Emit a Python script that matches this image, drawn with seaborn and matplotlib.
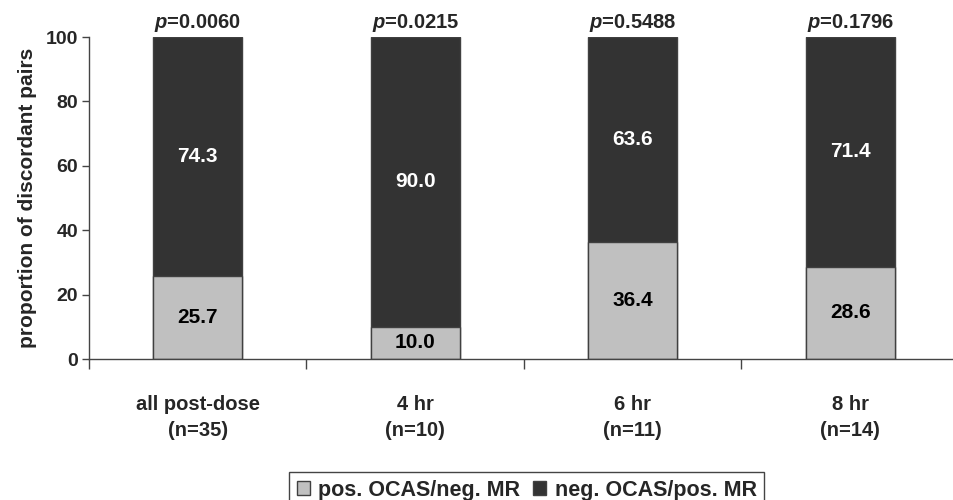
import matplotlib
matplotlib.use("Agg")
import matplotlib.pyplot as plt
from matplotlib.patches import Patch
import seaborn as sns
import pandas as pd

categories = ["all post-dose\n(n=35)", "4 hr\n(n=10)", "6 hr\n(n=11)", "8 hr\n(n=14)"]
pos_ocas = [25.7, 10.0, 36.4, 28.6]
neg_ocas = [74.3, 90.0, 63.6, 71.4]
p_values = ["0.0060", "0.0215", "0.5488", "0.1796"]
series_names = ["pos. OCAS/neg. MR", "neg. OCAS/pos. MR"]

light = "#c0c0c0"
dark = "#333333"
edge = "#404040"

sns.set_style("white")
plt.rcParams["font.family"] = ["Liberation Sans", "DejaVu Sans"]
plt.rcParams["font.weight"] = "bold"
plt.rcParams["mathtext.fontset"] = "custom"
plt.rcParams["mathtext.rm"] = "Liberation Sans:bold"
plt.rcParams["mathtext.bfit"] = "Liberation Sans:italic:bold"

df = pd.DataFrame({"cat": categories, "pos": pos_ocas, "neg": neg_ocas})
df["total"] = df["pos"] + df["neg"]

fig = plt.figure(figsize=(9.54, 5), dpi=100)
ax = fig.add_axes([89 / 954, 0.282, 870 / 954, 0.644])

# stacked bars: full height in dark, lower segment in light on top
sns.barplot(data=df, x="cat", y="total", color=dark, width=0.41,
            edgecolor=edge, linewidth=1, saturation=1, ax=ax)
sns.barplot(data=df, x="cat", y="pos", color=light, width=0.41,
            edgecolor=edge, linewidth=1, saturation=1, ax=ax)

for i in range(len(categories)):
    ax.text(i, pos_ocas[i] / 2, f"{pos_ocas[i]:.1f}", ha="center", va="center",
            fontsize=15, fontweight="bold", color="black")
    ax.text(i, pos_ocas[i] + neg_ocas[i] / 2, f"{neg_ocas[i]:.1f}", ha="center",
            va="center", fontsize=15, fontweight="bold", color="white")
    ax.text(i, 100.8, r"$\mathbfit{p}$=" + p_values[i], ha="center", va="bottom",
            fontsize=14.5, fontweight="bold")

ax.set_xlim(-0.5, len(categories) - 0.5)
ax.set_ylim(0, 100)
ax.set_yticks([0, 20, 40, 60, 80, 100])
ax.set_ylabel("proportion of discordant pairs", fontsize=15, fontweight="bold", labelpad=6)
ax.set_xlabel("")

for s in ["top", "right"]:
    ax.spines[s].set_visible(False)
for s in ["left", "bottom"]:
    ax.spines[s].set_color("#444444")
    ax.spines[s].set_linewidth(1)

ax.tick_params(axis="y", direction="out", length=5, width=1, color="#444444",
               labelsize=14, left=True, pad=3)
ax.tick_params(axis="x", which="major", length=0, labelsize=14.5, pad=26)
ax.set_xticks([-0.5, 0.5, 1.5, 2.5], minor=True)
ax.tick_params(axis="x", which="minor", direction="out", length=7, width=1,
               color="#444444", bottom=True)
for lbl in ax.get_xticklabels():
    lbl.set_fontweight("bold")
    lbl.set_linespacing(1.45)
for lbl in ax.get_yticklabels():
    lbl.set_fontweight("bold")

handles = [Patch(facecolor=light, edgecolor=edge, label=series_names[0]),
           Patch(facecolor=dark, edgecolor=edge, label=series_names[1])]
fig.legend(handles=handles, loc="upper center", bbox_to_anchor=(0.552, 0.056), ncol=2,
           frameon=True, fancybox=False, edgecolor="#444444", framealpha=1,
           handlelength=0.6, handleheight=0.6, handletextpad=0.4, columnspacing=0.6,
           borderpad=0.35, borderaxespad=0, prop={"weight": "bold", "size": 15.5})

fig.savefig("out.png", dpi=100)
